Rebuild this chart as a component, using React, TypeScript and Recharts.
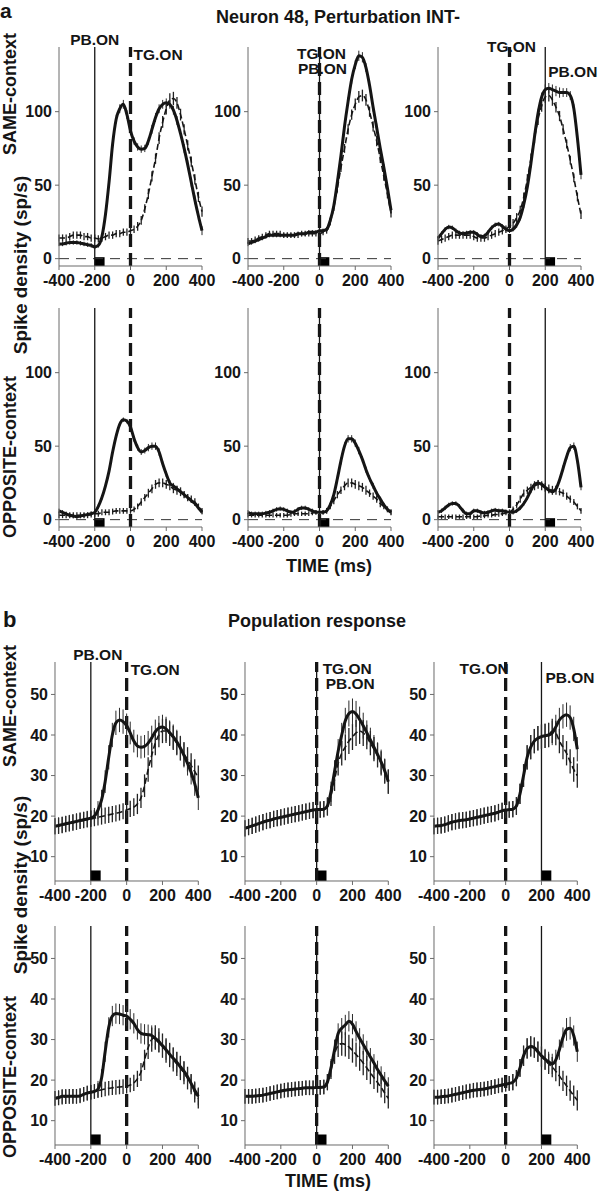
import React from 'react';
import { ComposedChart, Line, XAxis, YAxis, ReferenceLine, ReferenceArea, ErrorBar } from 'recharts';

// time axis (ms), one sample every 20 ms
const times = [
  -400, -380, -360, -340, -320, -300, -280, -260, -240, -220,
  -200, -180, -160, -140, -120, -100, -80, -60, -40, -20,
  0, 20, 40, 60, 80, 100, 120, 140, 160, 180,
  200, 220, 240, 260, 280, 300, 320, 340, 360, 380, 400,
];
const timeTicks = [-400, -200, 0, 200, 400];
const neuronTicks = [0, 50, 100];
const popTicks = [10, 20, 30, 40, 50];

// event onsets per column (ms)
const pbOnset = [-200, 0, 200];
const tgOnset = [0, 0, 0];
const pulseMs = 55;

// ---- a: Neuron 48, SAME-context ----
const aSame1Solid = [10, 10, 10.5, 11, 11, 11, 10.5, 10, 9.5, 9, 8, 9, 15, 30, 52, 78, 95, 102, 105, 98, 87, 80, 76, 74.5, 75, 80, 88, 96, 102, 105, 106, 105, 101, 94, 85, 75, 64, 52, 40, 29, 19];
const aSame1Dashed = [14, 14, 14, 15, 16, 16, 16, 15, 15, 14, 14, 13.5, 14, 15, 16, 16, 17, 17, 18, 18, 19, 20, 22, 26, 34, 44, 56, 68, 82, 93, 102, 108, 109, 106, 98, 88, 77, 66, 54, 42, 32];
const aSame1SolidErr = [1.5, 1.5, 1.5, 1.5, 1.5, 1.5, 1.5, 1.5, 1.5, 1.5, 1.5, 1.5, 2, 2, 2.5, 2.5, 3, 3, 3, 3, 3, 2.5, 2.5, 2.5, 2.5, 2.5, 3, 3, 3, 3, 3, 3, 3, 3, 3, 3, 3, 3, 3, 3, 3];
const aSame1DashedErr = [2.5, 2.5, 2.5, 2.5, 2.5, 2.5, 2.5, 2.5, 2.5, 2.5, 2.5, 2.5, 2.5, 2.5, 2.5, 2.5, 2.5, 2.5, 2.5, 2.5, 2.5, 2.5, 3, 3, 3, 3.5, 3.5, 3.5, 4, 4, 4, 4.5, 4.5, 4, 4, 3.5, 3.5, 3.5, 3.5, 3.5, 3.5];

const aSame2Solid = [10, 11, 12, 13, 14, 15, 16, 16, 16, 16, 16, 16, 16, 16, 17, 17, 17, 18, 18, 18, 19, 19, 20, 26, 36, 52, 70, 90, 107, 122, 132, 138, 137, 130, 118, 103, 89, 75, 62, 48, 33];
const aSame2Dashed = [12, 12, 13, 14, 15, 16, 17, 17, 17, 17, 16, 16, 16, 16, 16, 17, 17, 17, 17, 17, 17, 18, 19, 25, 35, 48, 62, 75, 88, 98, 105, 110, 111, 108, 100, 90, 80, 68, 56, 44, 31];
const aSame2SolidErr = [1.5, 1.5, 1.5, 1.5, 1.5, 1.5, 1.5, 1.5, 1.5, 1.5, 1.5, 1.5, 1.5, 1.5, 1.5, 1.5, 1.5, 1.5, 1.5, 1.5, 1.5, 1.5, 1.5, 2, 2, 2.5, 2.5, 3, 3, 3, 3, 3.5, 3.5, 3, 3, 3, 3, 2.5, 2.5, 2.5, 2.5];
const aSame2DashedErr = [2, 2, 2, 2, 2, 2, 2, 2, 2, 2, 2, 2, 2, 2, 2, 2, 2, 2, 2, 2, 2, 2, 2, 2.5, 2.5, 3, 3, 3, 3.5, 3.5, 4, 4, 4, 4, 3.5, 3.5, 3.5, 3, 3, 3, 3];

const aSame3Solid = [14, 17, 20, 21.5, 21, 19, 17.5, 17, 17.5, 18, 18, 16.5, 15, 15.5, 18, 21, 23, 23.5, 22, 20, 19, 20, 23, 28, 37, 49, 65, 83, 99, 110, 115, 116, 115, 114, 113, 113, 113, 111, 102, 82, 57];
const aSame3Dashed = [12, 13, 14, 15, 16, 16, 16, 16, 16, 16, 15, 14, 14, 14, 15, 16, 17, 18, 19, 20, 22, 24, 28, 33, 42, 54, 68, 82, 95, 104, 110, 111, 108, 103, 97, 88, 78, 67, 55, 42, 30];
const aSame3SolidErr = [1.5, 1.5, 1.5, 1.5, 1.5, 1.5, 1.5, 1.5, 1.5, 1.5, 1.5, 1.5, 1.5, 1.5, 1.5, 1.5, 1.5, 1.5, 1.5, 1.5, 1.5, 1.5, 2, 2, 2.5, 2.5, 3, 3, 3, 3, 3.5, 3.5, 3.5, 3.5, 3.5, 3, 3, 3, 3, 3, 3];
const aSame3DashedErr = [2.5, 2.5, 2.5, 2.5, 2.5, 2.5, 2.5, 2.5, 2.5, 2.5, 2.5, 2.5, 2.5, 2.5, 2.5, 2.5, 2.5, 2.5, 2.5, 2.5, 2.5, 3, 3, 3, 3, 3.5, 3.5, 3.5, 4, 4, 4, 4, 4, 3.5, 3.5, 3.5, 3, 3, 3, 3, 3];

// ---- a: Neuron 48, OPPOSITE-context ----
const aOpp1Solid = [6, 5, 4, 3, 2.5, 2, 2.5, 3, 3.5, 4, 5, 9, 15, 23, 33, 46, 57, 65, 68, 67, 63, 55, 49, 46, 47, 49, 50, 50, 46, 38, 31, 25, 23, 21, 19, 17, 15, 13, 11, 8, 5];
const aOpp1Dashed = [3, 3, 3, 3, 3, 3, 3, 3, 3, 3.5, 4, 4, 5, 5, 5, 5.5, 6, 6, 6, 6, 6, 7, 9, 12, 15, 18, 21, 24, 25, 25, 24, 23, 21, 20, 19, 17, 15, 14, 12, 9, 6];
const aOpp1SolidErr = [1.5, 1.5, 1.5, 1.5, 1.5, 1.5, 1.5, 1.5, 1.5, 1.5, 1.5, 1.5, 1.5, 1.5, 1.5, 1.5, 1.5, 1.5, 1.5, 1.5, 2, 2, 2, 2, 2, 2.5, 2.5, 2.5, 2.5, 2, 2, 2, 2, 2, 2, 2, 2, 1.5, 1.5, 1.5, 1.5];
const aOpp1DashedErr = [2, 2, 2, 2, 2, 2, 2, 2, 2, 2, 2, 2, 2, 2, 2, 2, 2, 2, 2, 2, 2, 2, 2, 2.5, 2.5, 3, 3, 3, 3, 3, 3, 3, 3, 3, 3, 2.5, 2.5, 2.5, 2.5, 2, 2];

const aOpp2Solid = [5, 4, 4, 4, 4, 4.5, 5, 6, 7, 7.5, 7, 6, 5, 5.5, 7, 8, 8, 7, 6, 5, 5, 5, 6, 10, 17, 28, 40, 50, 55, 55, 52, 47, 41, 34, 28, 23, 18, 14, 10, 7, 5];
const aOpp2Dashed = [3, 3, 3, 3, 3, 3, 3, 3, 3, 3, 3, 3, 3.5, 4, 4, 4, 4, 4, 4.5, 5, 5, 5, 6, 9, 13, 17, 20, 23, 25, 25, 24, 23, 22, 20, 18, 16, 14, 11, 9, 7, 5];
const aOpp2SolidErr = [1.5, 1.5, 1.5, 1.5, 1.5, 1.5, 1.5, 1.5, 1.5, 1.5, 1.5, 1.5, 1.5, 1.5, 1.5, 1.5, 1.5, 1.5, 1.5, 1.5, 1.5, 1.5, 1.5, 1.5, 2, 2, 2.5, 2.5, 2.5, 2.5, 2.5, 2.5, 2, 2, 2, 2, 1.5, 1.5, 1.5, 1.5, 1.5];
const aOpp2DashedErr = [1.5, 1.5, 1.5, 1.5, 1.5, 1.5, 1.5, 1.5, 1.5, 1.5, 1.5, 1.5, 1.5, 1.5, 1.5, 1.5, 1.5, 1.5, 1.5, 1.5, 1.5, 1.5, 2, 2, 2.5, 2.5, 2.5, 3, 3, 3, 3, 3, 3, 3, 2.5, 2.5, 2.5, 2.5, 2, 2, 2];

const aOpp3Solid = [5, 6, 8, 10, 11, 11, 9, 6, 4, 4, 6, 6, 5, 4.5, 5, 6, 6.5, 6, 6, 5.5, 5, 5, 6, 8, 11, 15, 20, 24, 25, 24, 22, 20, 19, 21, 27, 35, 43, 49, 50, 40, 22];
const aOpp3Dashed = [2, 2, 2, 2, 2, 2, 2, 2, 2, 2, 2, 2, 2.5, 2.5, 3, 3, 3.5, 3.5, 4, 4.5, 5, 7, 10, 14, 18, 20, 22, 23, 24, 23, 22, 21, 20, 20, 19, 18, 16, 14, 12, 9, 6];
const aOpp3SolidErr = [1.5, 1.5, 1.5, 1.5, 1.5, 1.5, 1.5, 1.5, 1.5, 1.5, 1.5, 1.5, 1.5, 1.5, 1.5, 1.5, 1.5, 1.5, 1.5, 1.5, 1.5, 1.5, 1.5, 1.5, 1.5, 1.5, 2, 2, 2, 2, 2, 2, 2, 2, 2, 2, 2, 2.5, 2.5, 2, 2];
const aOpp3DashedErr = [1.5, 1.5, 1.5, 1.5, 1.5, 1.5, 1.5, 1.5, 1.5, 1.5, 1.5, 1.5, 1.5, 1.5, 1.5, 1.5, 1.5, 1.5, 1.5, 1.5, 2, 2, 2, 2.5, 2.5, 2.5, 2.5, 3, 3, 3, 3, 3, 3, 3, 2.5, 2.5, 2.5, 2.5, 2, 2, 2];

// ---- b: Population response, SAME-context ----
const bSame1Solid = [17.5, 17.7, 17.9, 18.1, 18.3, 18.5, 18.7, 18.9, 19.1, 19.3, 19.5, 20, 21.5, 24, 28.5, 34.5, 40, 43, 43.7, 43.3, 42.3, 40.5, 38.5, 37.3, 37, 37.2, 38, 39.3, 40.8, 41.7, 42, 41.5, 40.6, 39.6, 38.3, 36.8, 35, 33, 30.8, 28, 24.5];
const bSame1Dashed = [17.5, 17.6, 17.8, 18, 18.2, 18.4, 18.6, 18.8, 19, 19.2, 19.3, 19.5, 19.7, 19.9, 20.1, 20.3, 20.5, 20.7, 20.9, 21.2, 21.5, 21.8, 22.2, 23, 24.5, 27.5, 31.5, 35, 38, 40, 41, 41, 40.3, 39.3, 38, 36.7, 35.3, 34, 32.5, 31, 29.5];
const bSame1SolidErr = [2, 2, 2, 2, 2, 2, 2, 2, 2, 2, 2, 2, 2.2, 2.5, 2.8, 3, 3, 3, 3, 3, 3, 2.8, 2.8, 2.8, 2.8, 2.8, 3, 3, 3, 3, 3, 3, 3, 3, 3, 3, 3, 3, 3, 3, 3];
const bSame1DashedErr = [2, 2, 2, 2, 2, 2, 2, 2, 2, 2, 2, 2, 2, 2, 2, 2, 2, 2, 2, 2, 2, 2, 2.2, 2.5, 2.5, 2.8, 3, 3, 3, 3, 3, 3, 3, 3, 3, 3, 3, 3, 3, 3, 3];

const bSame2Solid = [17, 17.3, 17.6, 17.9, 18.2, 18.5, 18.8, 19, 19.3, 19.5, 19.7, 19.9, 20.1, 20.3, 20.5, 20.7, 20.9, 21.1, 21.3, 21.5, 21.6, 21.6, 21.7, 22.5, 26, 31, 36, 40, 43.5, 45.3, 45.8, 45.2, 43.8, 42.3, 40.6, 38.8, 37, 35.2, 33.4, 31.2, 28.5];
const bSame2Dashed = [17, 17.3, 17.6, 17.9, 18.2, 18.5, 18.8, 19, 19.3, 19.5, 19.7, 19.9, 20.1, 20.3, 20.5, 20.7, 20.9, 21.1, 21.3, 21.5, 21.6, 21.6, 21.7, 22.3, 25, 29, 33, 35.5, 37, 38.5, 39.5, 40.5, 41, 40.5, 39.5, 38, 36.5, 35, 33, 31, 28.5];
const bSame2SolidErr = [2, 2, 2, 2, 2, 2, 2, 2, 2, 2, 2, 2, 2, 2, 2, 2, 2, 2, 2, 2, 2, 2, 2, 2.2, 2.5, 2.8, 3, 3, 3.2, 3.2, 3.2, 3.2, 3.2, 3.2, 3, 3, 3, 3, 3, 3, 3];
const bSame2DashedErr = [2, 2, 2, 2, 2, 2, 2, 2, 2, 2, 2, 2, 2, 2, 2, 2, 2, 2, 2, 2, 2, 2, 2, 2.2, 2.5, 2.8, 3, 3, 3.2, 3.2, 3.2, 3.2, 3.2, 3.2, 3, 3, 3, 3, 3, 3, 3];

const bSame3Solid = [17.5, 17.6, 17.7, 17.9, 18.2, 18.5, 18.7, 18.9, 19, 19.1, 19.3, 19.5, 19.7, 19.9, 20.1, 20.3, 20.5, 20.7, 21, 21.3, 21.5, 21.6, 21.7, 22.5, 25.5, 30, 34.5, 37, 38.5, 39.2, 39.6, 39.8, 40, 40.5, 42, 43.7, 44.6, 45, 44.3, 41.5, 36.5];
const bSame3Dashed = [17.5, 17.6, 17.7, 17.9, 18.2, 18.5, 18.7, 18.9, 19, 19.1, 19.3, 19.5, 19.7, 19.9, 20.1, 20.3, 20.5, 20.7, 21, 21.3, 21.5, 21.6, 21.7, 22.5, 25.5, 30, 34.5, 37, 38.5, 39.2, 39.6, 39.8, 40, 41, 40.5, 38.5, 37, 35.5, 33.5, 31.5, 30];
const bSame3SolidErr = [2, 2, 2, 2, 2, 2, 2, 2, 2, 2, 2, 2, 2, 2, 2, 2, 2, 2, 2, 2, 2, 2, 2, 2.2, 2.5, 2.8, 3, 3, 3, 3, 3, 3, 3, 3, 3, 3, 3, 3, 3, 3, 3];
const bSame3DashedErr = [2, 2, 2, 2, 2, 2, 2, 2, 2, 2, 2, 2, 2, 2, 2, 2, 2, 2, 2, 2, 2, 2, 2, 2.2, 2.5, 2.8, 3, 3, 3, 3, 3, 3, 3, 3, 3, 3, 3, 3, 3, 3, 3];

// ---- b: Population response, OPPOSITE-context ----
const bOpp1Solid = [15.5, 15.7, 16, 16, 16, 16, 16, 16.1, 16.5, 16.8, 17, 17.2, 17.8, 20.5, 27, 33, 35.8, 36.4, 36.3, 36, 35.8, 35, 34, 32.5, 31.5, 31.3, 31.2, 31, 30.3, 29.4, 28.5, 27.5, 26.4, 25.4, 24.4, 23.3, 22.2, 20.8, 19.2, 17.5, 16];
const bOpp1Dashed = [15.5, 15.6, 15.8, 15.9, 16, 16, 16, 16.2, 16.5, 16.8, 17, 17.2, 17.4, 17.6, 17.8, 18, 18.1, 18.2, 18.3, 18.4, 18.5, 18.8, 19.3, 20.3, 22, 25, 28, 30, 30.5, 29.8, 28.5, 27.3, 26.2, 25.1, 24, 23, 21.8, 20.5, 19, 17, 15.5];
const bOpp1SolidErr = [1.8, 1.8, 1.8, 1.8, 1.8, 1.8, 1.8, 1.8, 1.8, 1.8, 1.8, 1.8, 2, 2.2, 2.5, 2.5, 2.5, 2.5, 2.5, 2.5, 2.5, 2.5, 2.5, 2.5, 2.5, 2.5, 2.5, 2.5, 2.5, 2.5, 2.5, 2.5, 2.5, 2.5, 2.5, 2.5, 2.5, 2.2, 2.2, 2.2, 2.2];
const bOpp1DashedErr = [1.8, 1.8, 1.8, 1.8, 1.8, 1.8, 1.8, 1.8, 1.8, 1.8, 1.8, 1.8, 1.8, 1.8, 1.8, 1.8, 1.8, 1.8, 1.8, 1.8, 1.8, 1.8, 2, 2, 2.2, 2.5, 2.8, 3, 3, 3, 3, 3, 3, 3, 3, 3, 2.8, 2.8, 2.5, 2.5, 2.5];

const bOpp2Solid = [16, 16, 16, 16.1, 16.2, 16.3, 16.5, 16.7, 16.9, 17.1, 17.3, 17.5, 17.6, 17.7, 17.8, 17.9, 18, 18.1, 18.1, 18.1, 18.2, 18.2, 18.3, 19.5, 23, 27.5, 31.5, 32.8, 33.6, 34.5, 33.8, 32, 30.3, 28.8, 27.2, 25.7, 24.2, 22.6, 21.2, 19.8, 18.5];
const bOpp2Dashed = [16, 16, 16, 16.1, 16.2, 16.3, 16.5, 16.7, 16.9, 17.1, 17.3, 17.5, 17.6, 17.7, 17.8, 17.9, 18, 18.1, 18.1, 18.1, 18.2, 18.2, 18.3, 19.5, 22.5, 26.5, 28.5, 29, 28.8, 28.2, 27.3, 26.3, 25.3, 24.2, 23, 21.8, 20.6, 19.4, 18.2, 16.8, 15.5];
const bOpp2SolidErr = [1.8, 1.8, 1.8, 1.8, 1.8, 1.8, 1.8, 1.8, 1.8, 1.8, 1.8, 1.8, 1.8, 1.8, 1.8, 1.8, 1.8, 1.8, 1.8, 1.8, 1.8, 1.8, 1.8, 2, 2.2, 2.5, 2.5, 2.5, 2.5, 2.5, 2.5, 2.5, 2.5, 2.5, 2.5, 2.2, 2.2, 2.2, 2.2, 2.2, 2.2];
const bOpp2DashedErr = [1.8, 1.8, 1.8, 1.8, 1.8, 1.8, 1.8, 1.8, 1.8, 1.8, 1.8, 1.8, 1.8, 1.8, 1.8, 1.8, 1.8, 1.8, 1.8, 1.8, 1.8, 1.8, 1.8, 2, 2.2, 2.5, 2.8, 3, 3, 3, 3, 3, 3, 3, 3, 2.8, 2.8, 2.5, 2.5, 2.5, 2.5];

const bOpp3Solid = [15.8, 15.8, 15.9, 16, 16.1, 16.3, 16.5, 16.7, 16.9, 17.1, 17.3, 17.5, 17.6, 17.7, 17.8, 18, 18.2, 18.4, 18.6, 18.8, 19, 19.2, 19.5, 20.5, 23, 26, 27.8, 28.3, 28, 27, 26, 25.2, 24.5, 24, 25, 27.5, 30.5, 32.5, 32.8, 31, 27];
const bOpp3Dashed = [15.8, 15.8, 15.9, 16, 16.1, 16.3, 16.5, 16.7, 16.9, 17.1, 17.3, 17.5, 17.6, 17.7, 17.8, 18, 18.2, 18.4, 18.6, 18.8, 19, 19.2, 19.5, 20.5, 23, 26, 27.8, 28.3, 28, 27, 25.8, 25, 24, 23.2, 22.2, 21, 19.8, 18.6, 17.4, 16.2, 15];
const bOpp3SolidErr = [1.8, 1.8, 1.8, 1.8, 1.8, 1.8, 1.8, 1.8, 1.8, 1.8, 1.8, 1.8, 1.8, 1.8, 1.8, 1.8, 1.8, 1.8, 1.8, 1.8, 1.8, 1.8, 2, 2, 2.2, 2.5, 2.5, 2.5, 2.5, 2.5, 2.5, 2.5, 2.5, 2.5, 2.5, 2.5, 2.5, 2.8, 2.8, 2.5, 2.5];
const bOpp3DashedErr = [1.8, 1.8, 1.8, 1.8, 1.8, 1.8, 1.8, 1.8, 1.8, 1.8, 1.8, 1.8, 1.8, 1.8, 1.8, 1.8, 1.8, 1.8, 1.8, 1.8, 1.8, 1.8, 2, 2, 2.2, 2.5, 2.5, 2.5, 2.5, 2.5, 2.5, 2.5, 2.5, 2.5, 2.5, 2.5, 2.5, 2.5, 2.5, 2.5, 2.5];

const FONT = '"Liberation Sans", Arial, Helvetica, sans-serif';
const INK = '#151515';
const AXIS = '#6a6a6a';

// chart frame
const Y_W = 50;
const X_H = 34;
const M_TOP = 40;
const M_RIGHT = 22;
const PLOT_H = 219;

type Lbl = { caption: string; lx: number; ly: number; side: 'start' | 'middle' | 'end' };

const OnsetLabel = (props: any) => {
  const x = (props.viewBox && props.viewBox.x) || 0;
  return (
    <text x={x + props.lx} y={M_TOP + props.ly} textAnchor={props.side}
      style={{ fontFamily: FONT, fontWeight: 700, fontSize: 15.5, fill: INK }}>
      {props.caption}
    </text>
  );
};

type Spec = {
  solid: number[]; dashed: number[]; solidErr: number[]; dashedErr: number[];
  col: number; left: number; top: number; width: number;
  yDomain: [number, number]; yTicks: number[]; zeroLine: boolean; pulseTop: number;
  pbLabel?: Lbl; tgLabel?: Lbl;
};

const Panel = ({ s }: { s: Spec }) => {
  const rows = times.map((t, i) => ({
    t, solid: s.solid[i], dashed: s.dashed[i], solidErr: s.solidErr[i], dashedErr: s.dashedErr[i],
  }));
  const pb = pbOnset[s.col];
  const tg = tgOnset[s.col];
  const tickStyle = { fontFamily: FONT, fontWeight: 700, fontSize: 16, fill: INK };
  return (
    <div style={{ position: 'absolute', left: s.left - Y_W, top: s.top - M_TOP }}>
      <ComposedChart width={Y_W + s.width + M_RIGHT} height={M_TOP + PLOT_H + X_H} data={rows}
        margin={{ top: M_TOP, right: M_RIGHT, bottom: 0, left: 0 }}>
        <XAxis dataKey="t" type="number" domain={[-400, 400]} ticks={timeTicks} height={X_H}
          stroke={AXIS} tickSize={4} tickMargin={5} tick={tickStyle} interval={0} />
        <YAxis type="number" domain={s.yDomain} ticks={s.yTicks} width={Y_W}
          stroke={AXIS} tickSize={4} tickMargin={3} tick={tickStyle} interval={0} />
        {s.zeroLine && <ReferenceLine y={0} stroke="#333" strokeWidth={1} strokeDasharray="10 7" />}
        <ReferenceArea x1={pb} x2={pb + pulseMs} y1={s.yDomain[0]} y2={s.pulseTop}
          fill="#000" fillOpacity={1} stroke="none" />
        <ReferenceLine x={pb} stroke={INK} strokeWidth={1.3}
          label={s.pbLabel ? <OnsetLabel {...s.pbLabel} /> : undefined} />
        <ReferenceLine x={tg} stroke={INK} strokeWidth={3.3} strokeDasharray="13 6"
          label={s.tgLabel ? <OnsetLabel {...s.tgLabel} /> : undefined} />
        <Line dataKey="dashed" type="monotone" stroke={INK} strokeWidth={1.6} strokeDasharray="6 3"
          dot={false} activeDot={false} isAnimationActive={false}>
          <ErrorBar dataKey="dashedErr" direction="y" width={0} stroke="#222" strokeWidth={1.3} />
        </Line>
        <Line dataKey="solid" type="monotone" stroke={INK} strokeWidth={3}
          dot={false} activeDot={false} isAnimationActive={false}>
          <ErrorBar dataKey="solidErr" direction="y" width={0} stroke="#2a2a2a" strokeWidth={1} />
        </Line>
      </ComposedChart>
    </div>
  );
};

const A_COLS = [58.7, 247.8, 437.7];
const B_COLS = [55, 245, 434];
const A_ROWS = [46.7, 308.3];
const B_ROWS = [661.7, 925.5];

const aDomain: [number, number] = [-5, 144];
const bDomain: [number, number] = [4, 58];

const specs: Spec[] = [
  { solid: aSame1Solid, dashed: aSame1Dashed, solidErr: aSame1SolidErr, dashedErr: aSame1DashedErr, col: 0, left: A_COLS[0], top: A_ROWS[0], width: 143, yDomain: aDomain, yTicks: neuronTicks, zeroLine: true, pulseTop: 1,
    pbLabel: { caption: 'PB.ON', lx: 0, ly: -2.5, side: 'middle' }, tgLabel: { caption: 'TG.ON', lx: 3, ly: 13, side: 'start' } },
  { solid: aSame2Solid, dashed: aSame2Dashed, solidErr: aSame2SolidErr, dashedErr: aSame2DashedErr, col: 1, left: A_COLS[1], top: A_ROWS[0], width: 143, yDomain: aDomain, yTicks: neuronTicks, zeroLine: true, pulseTop: 1,
    tgLabel: { caption: 'TG.ON', lx: 2, ly: 11.5, side: 'middle' }, pbLabel: { caption: 'PB.ON', lx: 3, ly: 26.5, side: 'middle' } },
  { solid: aSame3Solid, dashed: aSame3Dashed, solidErr: aSame3SolidErr, dashedErr: aSame3DashedErr, col: 2, left: A_COLS[2], top: A_ROWS[0], width: 143, yDomain: aDomain, yTicks: neuronTicks, zeroLine: true, pulseTop: 1,
    tgLabel: { caption: 'TG.ON', lx: 2, ly: 5, side: 'middle' }, pbLabel: { caption: 'PB.ON', lx: 3, ly: 30, side: 'start' } },
  { solid: aOpp1Solid, dashed: aOpp1Dashed, solidErr: aOpp1SolidErr, dashedErr: aOpp1DashedErr, col: 0, left: A_COLS[0], top: A_ROWS[1], width: 143, yDomain: aDomain, yTicks: neuronTicks, zeroLine: true, pulseTop: 1 },
  { solid: aOpp2Solid, dashed: aOpp2Dashed, solidErr: aOpp2SolidErr, dashedErr: aOpp2DashedErr, col: 1, left: A_COLS[1], top: A_ROWS[1], width: 143, yDomain: aDomain, yTicks: neuronTicks, zeroLine: true, pulseTop: 1 },
  { solid: aOpp3Solid, dashed: aOpp3Dashed, solidErr: aOpp3SolidErr, dashedErr: aOpp3DashedErr, col: 2, left: A_COLS[2], top: A_ROWS[1], width: 143, yDomain: aDomain, yTicks: neuronTicks, zeroLine: true, pulseTop: 1 },
  { solid: bSame1Solid, dashed: bSame1Dashed, solidErr: bSame1SolidErr, dashedErr: bSame1DashedErr, col: 0, left: B_COLS[0], top: B_ROWS[0], width: 143.3, yDomain: bDomain, yTicks: popTicks, zeroLine: false, pulseTop: 6.6,
    pbLabel: { caption: 'PB.ON', lx: 7, ly: -2, side: 'middle' }, tgLabel: { caption: 'TG.ON', lx: 4, ly: 13, side: 'start' } },
  { solid: bSame2Solid, dashed: bSame2Dashed, solidErr: bSame2SolidErr, dashedErr: bSame2DashedErr, col: 1, left: B_COLS[1], top: B_ROWS[0], width: 143.3, yDomain: bDomain, yTicks: popTicks, zeroLine: false, pulseTop: 6.6,
    tgLabel: { caption: 'TG.ON', lx: 6, ly: 12, side: 'start' }, pbLabel: { caption: 'PB.ON', lx: 9, ly: 27, side: 'start' } },
  { solid: bSame3Solid, dashed: bSame3Dashed, solidErr: bSame3SolidErr, dashedErr: bSame3DashedErr, col: 2, left: B_COLS[2], top: B_ROWS[0], width: 143.3, yDomain: bDomain, yTicks: popTicks, zeroLine: false, pulseTop: 6.6,
    tgLabel: { caption: 'TG.ON', lx: 3, ly: 12, side: 'end' }, pbLabel: { caption: 'PB.ON', lx: 4, ly: 21, side: 'start' } },
  { solid: bOpp1Solid, dashed: bOpp1Dashed, solidErr: bOpp1SolidErr, dashedErr: bOpp1DashedErr, col: 0, left: B_COLS[0], top: B_ROWS[1], width: 143.3, yDomain: bDomain, yTicks: popTicks, zeroLine: false, pulseTop: 6.6 },
  { solid: bOpp2Solid, dashed: bOpp2Dashed, solidErr: bOpp2SolidErr, dashedErr: bOpp2DashedErr, col: 1, left: B_COLS[1], top: B_ROWS[1], width: 143.3, yDomain: bDomain, yTicks: popTicks, zeroLine: false, pulseTop: 6.6 },
  { solid: bOpp3Solid, dashed: bOpp3Dashed, solidErr: bOpp3SolidErr, dashedErr: bOpp3DashedErr, col: 2, left: B_COLS[2], top: B_ROWS[1], width: 143.3, yDomain: bDomain, yTicks: popTicks, zeroLine: false, pulseTop: 6.6 },
];

const txt = { fontFamily: FONT, fontWeight: 700, fill: INK } as const;

const VLabel = ({ x, y, size, children }: { x: number; y: number; size: number; children: string }) => (
  <text x={x} y={y} transform={`rotate(-90 ${x} ${y})`} textAnchor="middle" style={{ ...txt, fontSize: size }}>
    {children}
  </text>
);

export default function App() {
  return (
    <div style={{ position: 'absolute', left: 0, top: 0, width: 598, height: 1199, background: '#fff', overflow: 'hidden' }}>
      <svg width={598} height={1199} style={{ position: 'absolute', left: 0, top: 0 }}>
        <text x={0} y={18} style={{ ...txt, fontSize: 21 }}>a</text>
        <text x={338} y={22.5} textAnchor="middle" style={{ ...txt, fontSize: 18 }}>Neuron 48, Perturbation INT-</text>
        <VLabel x={15.5} y={94} size={18}>SAME-context</VLabel>
        <VLabel x={27} y={265} size={19}>Spike density (sp/s)</VLabel>
        <VLabel x={15.5} y={457} size={18}>OPPOSITE-context</VLabel>
        <text x={329} y={572} textAnchor="middle" style={{ ...txt, fontSize: 18 }}>TIME (ms)</text>

        <text x={3} y={627} style={{ ...txt, fontSize: 22 }}>b</text>
        <text x={317} y={627} textAnchor="middle" style={{ ...txt, fontSize: 18 }}>Population response</text>
        <VLabel x={15.5} y={706} size={18}>SAME-context</VLabel>
        <VLabel x={27} y={885} size={19}>Spike density (sp/s)</VLabel>
        <VLabel x={15.5} y={1077} size={18}>OPPOSITE-context</VLabel>
        <text x={328} y={1187} textAnchor="middle" style={{ ...txt, fontSize: 18 }}>TIME (ms)</text>
      </svg>
      {specs.map((s, i) => <Panel key={i} s={s} />)}
    </div>
  );
}
